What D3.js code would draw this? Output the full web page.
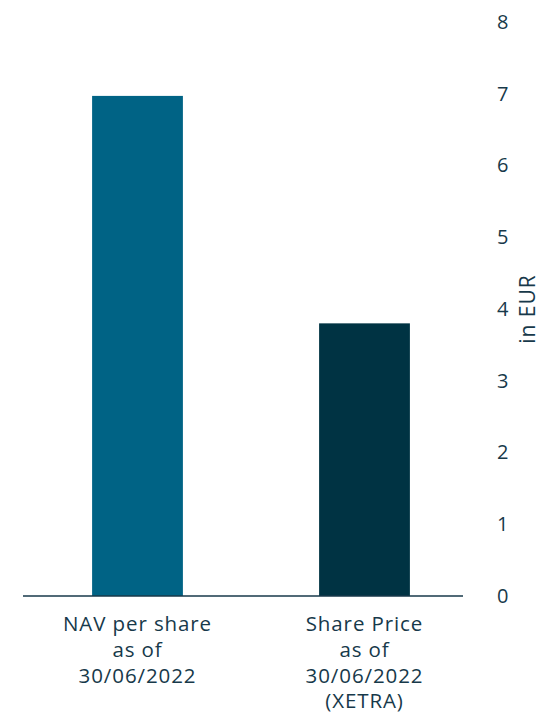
<!DOCTYPE html>
<html>
<head>
<meta charset="utf-8">
<script src="https://cdn.jsdelivr.net/npm/d3@7"></script>
<style>
  body { margin: 0; background: #fff; }
  svg text { font-family: "Open Sans", sans-serif; fill: #17394a; }
</style>
</head>
<body>
<div class="display"></div>
<script>
var categories = ["NAV per share|as of|30/06/2022", "Share Price|as of|30/06/2022|(XETRA)"];
var values = [6.97, 3.80];
var barColors = ["#006385", "#003343"];
var tickValues = [0, 1, 2, 3, 4, 5, 6, 7, 8];

var width = 540, height = 714;

var svg = d3.select(".display")
  .append("svg")
  .attr("width", width)
  .attr("height", height);

var x = d3.scaleBand()
  .domain(categories)
  .range([24, 478])
  .paddingInner(0.6)
  .paddingOuter(0.3);

var y = d3.scaleLinear()
  .domain([0, 8])
  .range([596, 22]);

svg.selectAll("rect")
  .data(values)
  .enter().append("rect")
  .attr("x", function(d, i) { return x(categories[i]); })
  .attr("y", function(d) { return y(d); })
  .attr("width", x.bandwidth())
  .attr("height", function(d) { return y(0) - y(d); })
  .attr("fill", function(d, i) { return barColors[i]; });

// baseline
svg.append("line")
  .attr("x1", 23)
  .attr("x2", 463)
  .attr("y1", y(0))
  .attr("y2", y(0))
  .attr("stroke", "#17394a")
  .attr("stroke-width", 1.5);

// y axis on the right
var yAxis = svg.append("g")
  .attr("transform", "translate(491,0)")
  .call(d3.axisRight(y).tickValues(tickValues).tickSize(0).tickPadding(6));
yAxis.select(".domain").remove();
yAxis.selectAll("text")
  .style("font-size", "20px")
  .style("font-family", "'Open Sans', sans-serif")
  .attr("fill", "#17394a");

svg.append("text")
  .attr("transform", "translate(535,309) rotate(-90)")
  .attr("text-anchor", "middle")
  .style("font-size", "21px")
  .style("letter-spacing", "1px")
  .text("in EUR");

// category labels
categories.forEach(function(c) {
  var lines = c.split("|");
  var t = svg.append("text")
    .attr("text-anchor", "middle")
    .style("font-size", "20.5px")
    .style("letter-spacing", "0.9px");
  lines.forEach(function(l, j) {
    t.append("tspan")
      .attr("x", x(c) + x.bandwidth() / 2)
      .attr("y", 631 + j * 25.8)
      .text(l);
  });
});
</script>
</body>
</html>
